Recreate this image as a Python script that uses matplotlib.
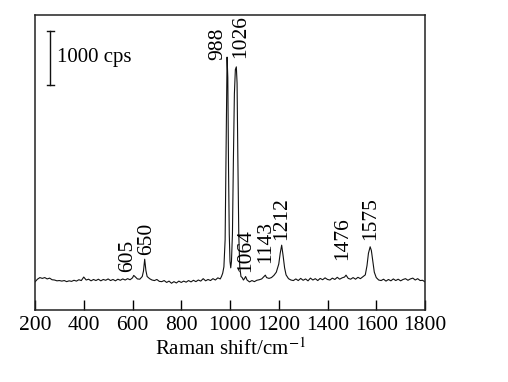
import numpy as np
import matplotlib
matplotlib.use("Agg")
import matplotlib.pyplot as plt

# Raman spectrum (cps)
shift = [200, 210, 220, 230, 240, 250, 260, 270, 280, 290,
         300, 310, 320, 330, 340, 350, 360, 370, 380, 390,
         400, 410, 420, 430, 440, 450, 460, 470, 480, 490,
         500, 510, 520, 530, 540, 550, 560, 570, 580, 590,
         600, 605, 610, 620, 630, 640, 645, 650, 655, 660,
         670, 680, 690, 700, 710, 720, 730, 740, 750, 760,
         770, 780, 790, 800, 810, 820, 830, 840, 850, 860,
         870, 880, 890, 900, 910, 920, 930, 940, 950, 960,
         965, 970, 975, 980, 984, 988, 991, 994, 997, 1000,
         1003, 1006, 1010, 1014, 1018, 1022, 1026, 1029, 1032, 1036,
         1040, 1045, 1050, 1055, 1060, 1064, 1070, 1080, 1090, 1100,
         1110, 1120, 1130, 1140, 1145, 1150, 1160, 1170, 1180, 1190,
         1200, 1206, 1212, 1218, 1224, 1230, 1240, 1250, 1260, 1270,
         1280, 1290, 1300, 1310, 1320, 1330, 1340, 1350, 1360, 1370,
         1380, 1390, 1400, 1410, 1420, 1430, 1440, 1450, 1460, 1470,
         1476, 1485, 1495, 1505, 1515, 1525, 1535, 1545, 1555, 1562,
         1568, 1575, 1580, 1586, 1592, 1600, 1610, 1620, 1630, 1640,
         1650, 1660, 1670, 1680, 1690, 1700, 1710, 1720, 1730, 1740,
         1750, 1760, 1770, 1780, 1790, 1800]
counts = [520, 570, 600, 585, 600, 575, 590, 560, 555, 540,
          545, 535, 545, 525, 540, 530, 550, 535, 560, 545,
          610, 555, 570, 540, 565, 545, 570, 540, 565, 550,
          575, 545, 565, 540, 570, 550, 575, 555, 580, 560,
          595, 640, 620, 575, 570, 620, 720, 940, 730, 620,
          580, 555, 545, 565, 530, 525, 545, 510, 535, 495,
          525, 500, 535, 510, 535, 515, 545, 520, 550, 525,
          555, 535, 580, 540, 565, 545, 580, 555, 595, 575,
          620, 680, 800, 1300, 3000, 4680, 4300, 2600, 1400, 900,
          780, 900, 1400, 2800, 4000, 4450, 4500, 4200, 2900, 1400,
          800, 620, 600, 555, 585, 620, 555, 520, 545, 525,
          550, 560, 575, 620, 645, 600, 585, 600, 640, 700,
          850, 1050, 1200, 1000, 780, 650, 580, 555, 545, 575,
          545, 585, 550, 575, 540, 590, 555, 580, 545, 585,
          560, 595, 565, 555, 590, 565, 605, 570, 595, 610,
          645, 585, 570, 600, 570, 605, 580, 615, 650, 820,
          1050, 1170, 1100, 900, 700, 600, 555, 545, 570, 535,
          565, 540, 575, 545, 570, 540, 565, 580, 550, 575,
          590, 555, 580, 545, 550, 520]

peak_labels = ["605", "650", "988", "1026", "1064", "1143", "1212", "1476", "1575"]
label_x = [581, 659, 950, 1045, 1066, 1148, 1213, 1464, 1578]
label_y = [700, 1020, 4630, 4670, 700, 870, 1300, 925, 1300]

plt.rcParams['font.family'] = ['Liberation Serif', 'DejaVu Serif']
plt.rcParams['mathtext.fontset'] = 'stix'

fig = plt.figure(figsize=(5.08, 3.82), dpi=100)
ax = fig.add_axes([35 / 508, 72 / 382, 390 / 508, 295 / 382])

ax.plot(shift, counts, color='#111111', lw=0.8)

for s, x, y in zip(peak_labels, label_x, label_y):
    ax.text(x, y, s, rotation=90, ha='center', va='bottom', fontsize=15.5)

# scale bar 1000 cps
bar_x = 262
bar_y0 = 4170
ax.plot([bar_x, bar_x], [bar_y0, bar_y0 + 1000], color='#111111', lw=1.0)
ax.plot([bar_x - 14, bar_x + 14], [bar_y0, bar_y0], color='#111111', lw=1.0)
ax.plot([bar_x - 14, bar_x + 14], [bar_y0 + 1000, bar_y0 + 1000], color='#111111', lw=1.0)
ax.text(bar_x + 30, bar_y0 + 500, "1000 cps", ha='left', va='center', fontsize=15)

ax.set_xlim(200, 1800)
ax.set_ylim(0, 5460)
ax.set_xticks(np.arange(200, 1801, 200))
ax.set_yticks([])
ax.tick_params(axis='x', direction='in', length=7, width=1.0, labelsize=15.5, pad=4)
for sp in ax.spines.values():
    sp.set_linewidth(1.1)
    sp.set_color('#222222')
ax.set_xlabel("Raman shift/cm$^{-1}$", fontsize=15, labelpad=3)

fig.savefig("out.png", dpi=100)
